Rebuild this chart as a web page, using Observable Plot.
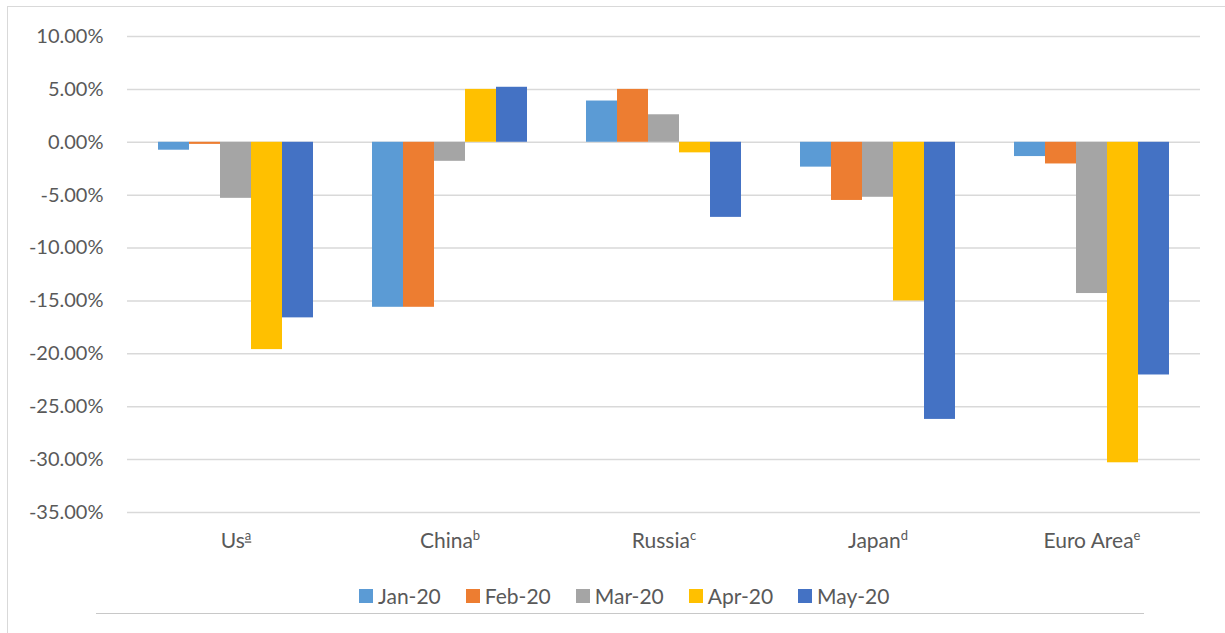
<!DOCTYPE html>
<html><head><meta charset="utf-8">
<script src="https://cdn.jsdelivr.net/npm/d3@7"></script>
<script src="https://cdn.jsdelivr.net/npm/@observablehq/plot@0.6"></script>
<style>
html,body{margin:0;padding:0;background:#fff;}
body{width:1225px;height:633px;overflow:hidden;position:relative;font-family:Lato,"Open Sans",sans-serif;}
#grid,#chart{position:absolute;left:0;top:0;}
#frameTop{position:absolute;left:7px;top:6px;width:1230px;height:0;border-top:1.5px solid #d9d9d9;}
#frameLeft{position:absolute;left:7px;top:6px;width:0;height:640px;border-left:1.5px solid #d9d9d9;}
#bottomLine{position:absolute;left:96px;top:613px;width:1048px;height:0;border-top:1.5px solid #c8c8c8;}
#legend{position:absolute;left:359px;top:583px;display:flex;align-items:center;font-size:21px;color:#595959;}
#legend .item{display:flex;align-items:center;margin-right:25px;}
#legend .sw{width:14px;height:14px;margin-right:5px;}
</style></head><body>
<div id="frameTop"></div><div id="frameLeft"></div>
<div id="grid"></div>
<div id="chart"></div>
<div id="legend"></div>
<div id="bottomLine"></div>
<script>
const countries = ["Usª", "Chinaᵇ", "Russiaᶜ", "Japanᵈ", "Euro Areaᵉ"];
const months = ["Jan-20", "Feb-20", "Mar-20", "Apr-20", "May-20"];
const jan20 = [-0.75, -15.6, 3.9, -2.35, -1.35];
const feb20 = [-0.2, -15.6, 5.0, -5.5, -2.05];
const mar20 = [-5.3, -1.8, 2.6, -5.2, -14.3];
const apr20 = [-19.6, 5.0, -1.0, -15.0, -30.3];
const may20 = [-16.6, 5.2, -7.1, -26.2, -22.0];
const yTicks = [10, 5, 0, -5, -10, -15, -20, -25, -30, -35];
const colors = ["#5b9bd5", "#ed7d31", "#a5a5a5", "#ffc000", "#4472c4"];

const series = [jan20, feb20, mar20, apr20, may20];
const rows = countries.flatMap((c, i) => months.map((m, j) => ({country: c, month: m, value: series[j][i]})));

const common = {
  width: 1225, height: 570,
  marginLeft: 127, marginRight: 25, marginTop: 36, marginBottom: 58,
  style: {fontFamily: "Lato, 'Open Sans', sans-serif", color: "#595959", background: "transparent", fontSize: "20px"}
};

const grid = Plot.plot({
  ...common,
  x: {axis: null},
  y: {domain: [-35, 10], ticks: yTicks, tickFormat: d => d.toFixed(2) + "%", tickSize: 0, tickPadding: 24, label: null},
  marks: [
    Plot.ruleY(yTicks, {stroke: "#d9d9d9", strokeWidth: 1.5})
  ]
});
document.getElementById("grid").appendChild(grid);

const chart = Plot.plot({
  ...common,
  style: {...common.style, fontSize: "21px"},
  fx: {domain: countries, paddingInner: 0.275, paddingOuter: 0.1375, label: null, tickSize: 0, tickPadding: 21},
  x: {domain: months, padding: 0, axis: null},
  y: {domain: [-35, 10], axis: null},
  color: {domain: months, range: colors},
  marks: [
    Plot.barY(rows, {fx: "country", x: "month", y: "value", fill: "month", inset: 0})
  ]
});
document.getElementById("chart").appendChild(chart);

// render the trailing superscript marker as a raised small letter
const supMap = {"ª": "a", "ᵇ": "b", "ᶜ": "c", "ᵈ": "d", "ᵉ": "e"};
chart.querySelectorAll('[aria-label="fx-axis tick label"] text').forEach(t => {
  const s = t.textContent;
  const last = s.slice(-1);
  if (!(last in supMap)) return;
  t.textContent = "";
  const base = document.createElementNS("http://www.w3.org/2000/svg", "tspan");
  base.textContent = s.slice(0, -1);
  const sup = document.createElementNS("http://www.w3.org/2000/svg", "tspan");
  sup.textContent = supMap[last];
  sup.setAttribute("font-size", "13px");
  sup.setAttribute("baseline-shift", "super");
  if (last === "ª") sup.setAttribute("text-decoration", "underline");
  t.appendChild(base); t.appendChild(sup);
});

const legend = document.getElementById("legend");
months.forEach((m, j) => {
  const it = document.createElement("div"); it.className = "item";
  const sw = document.createElement("div"); sw.className = "sw"; sw.style.background = colors[j];
  const tx = document.createElement("span"); tx.textContent = m;
  it.appendChild(sw); it.appendChild(tx); legend.appendChild(it);
});
</script>
</body></html>
